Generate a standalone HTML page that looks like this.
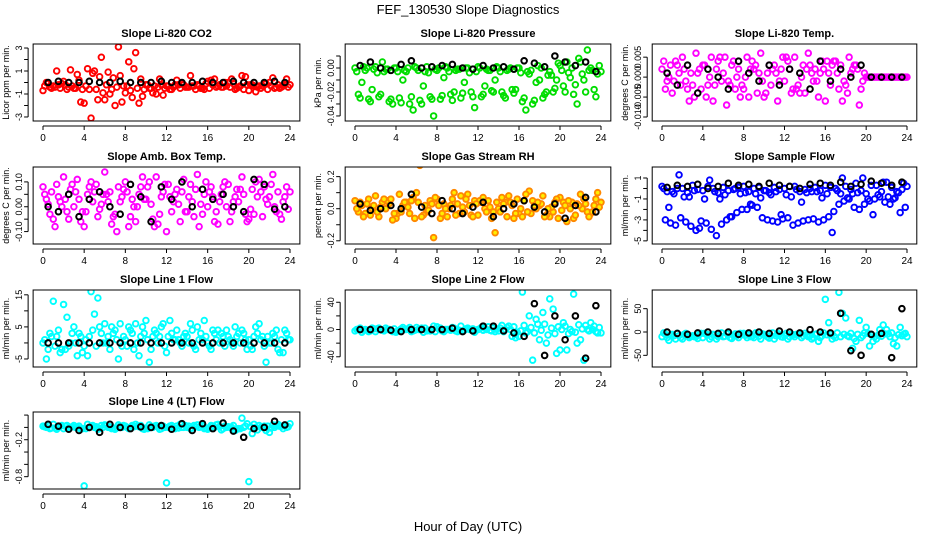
<!DOCTYPE html>
<html><head><meta charset="utf-8"><style>
html,body{margin:0;padding:0;background:#fff;}
svg{display:block;font-family:"Liberation Sans",Arial,sans-serif;}
</style></head><body>
<svg id="chart" width="936" height="540" viewBox="0 0 936 540" xmlns="http://www.w3.org/2000/svg">
<text x="468" y="14" text-anchor="middle" font-size="13">FEF_130530  Slope Diagnostics</text>
<text x="468" y="531" text-anchor="middle" font-size="13">Hour of Day (UTC)</text>
</svg>
<script>
const xTicks=[0,4,8,12,16,20,24];
// Panel 1 CO2
const co2A=[-0.7,-0.3,0.1,-0.5,-1.8,1.0,-1.5,-2.0,-0.9,2.6,-0.2,-1.0,-0.3,0.2,-0.4,-0.2,0.1,-0.3,0.0,-0.4,-0.7,-0.3,0.0,-0.5,-0.2];
const co2B=[0.0,1.0,-0.6,0.7,1.2,-1.5,0.9,3.1,1.8,-1.8,-0.5,0.3,-0.6,-0.5,0.6,-0.5,0.2,-0.4,0.3,0.6,-0.2,-0.3,0.4,-0.3];
const co2C=[-0.4,-0.5,1.1,-1.7,-3.1,2.2,-0.6,-1.7,-1.3,-1.2,-0.9,-1.1,-0.4,-0.2,-0.3,-0.6,0.3,0.0,-0.6,0.5,-0.8,-0.1,-0.4,0.3];
const co2D=[-0.3,-0.4,-0.2,-0.5,-0.3,-0.6,-0.2,-0.4,-0.3,-0.5,-0.2,-0.4,-0.3,-0.2,-0.4,-0.3,-0.5,-0.2,-0.4,-0.3,-0.2,-0.5,-0.3,-0.4];
const co2E=[-0.1,-0.2,-0.4,0.2,-0.6,0.5,-1.0,0.6,-0.7,0.3,-0.5,-0.2,-0.6,-0.1,-0.3,-0.5,-0.2,-0.4,-0.1,-0.6,-0.3,-0.1,-0.5,-0.2];
const co2F=[-0.5,-0.1,-0.3,-0.6,0.8,-0.9,0.4,-0.3,1.2,-0.6,-0.3,-0.5,-0.2,-0.4,-0.6,-0.1,-0.4,-0.3,-0.5,-0.2,-0.4,-0.6,-0.2,-0.4];
const co2K=[0.0,0.1,0.0,0.0,0.1,0.0,0.0,0.1,0.0,0.0,0.0,0.1,0.0,0.0,0.0,0.1,0.0,0.0,0.1,0.0,0.0,0.0,0.1,0.0];
// Panel 2 pressure
const prA=[0.0,-0.002,0.001,-0.001,0.0,-0.003,0.0,0.001,-0.002,0.0,-0.001,0.0,0.001,-0.002,0.0,-0.001,0.0,-0.005,-0.01,-0.003,0.002,-0.008,0.005,0.0,-0.003];
const prB=[-0.022,-0.026,-0.024,-0.028,-0.025,-0.03,-0.027,-0.024,-0.026,-0.022,-0.025,-0.02,-0.024,-0.019,-0.02,-0.018,-0.028,-0.03,-0.025,-0.02,-0.015,-0.022,-0.01,-0.018];
const prC=[-0.012,-0.018,0.005,-0.03,-0.01,-0.035,-0.015,-0.04,-0.008,-0.02,-0.012,-0.033,-0.015,-0.01,-0.025,-0.018,-0.035,-0.012,-0.02,-0.01,0.005,-0.03,0.015,-0.005];
const prD=[-0.003,0.0,-0.004,-0.001,-0.003,0.0,-0.002,-0.004,0.0,-0.003,-0.001,-0.004,0.0,-0.002,-0.003,0.0,-0.004,-0.002,0.0,-0.006,-0.002,0.0,-0.005,-0.002];
const prE=[-0.025,-0.028,-0.022,-0.026,-0.029,-0.024,-0.03,-0.026,-0.023,-0.027,-0.021,-0.024,-0.022,-0.02,-0.023,-0.021,-0.025,-0.027,-0.022,-0.017,-0.02,-0.014,-0.02,-0.024];
const prF=[0.001,-0.001,-0.003,0.0,-0.002,0.001,-0.003,-0.001,0.001,-0.002,0.0,-0.003,-0.001,0.001,-0.002,0.0,-0.003,0.002,-0.006,0.004,-0.004,0.008,-0.002,0.002];
const prK=[0.002,0.005,0.0,-0.002,0.003,0.006,0.0,0.001,0.002,0.003,0.0,-0.001,0.002,0.0,0.001,-0.001,0.006,0.004,0.001,0.01,0.005,0.002,0.005,-0.003];
// Panel 3 temp
const tA=[0.002,-0.004,0.005,-0.002,0.003,-0.006,0.001,0.004,-0.003,0.002,-0.005,0.003,-0.001,0.005,-0.004,0.002,-0.006,0.004,-0.002,0.003,0,0,0,0,0];
const tB=[-0.003,0.004,-0.001,0.006,-0.005,0.002,-0.007,0.0,0.005,-0.004,0.001,-0.006,0.004,-0.002,0.006,-0.005,0.001,-0.003,0.005,-0.007,0,0,0,0];
const tC=[0.0,0.001,-0.006,0.002,0.0,0.005,-0.002,-0.005,0.002,0.006,-0.002,0.002,-0.004,0.0,0.001,0.004,0.003,-0.006,0.002,-0.001,0,0,0,0];
const tD=[0.004,-0.001,0.002,-0.005,0.003,-0.002,0.005,-0.003,0.0,0.003,-0.004,0.001,0.005,-0.003,0.002,-0.001,0.004,0.001,-0.004,0.002,0,0,0,0];
const tE=[-0.001,0.003,-0.003,0.001,-0.002,0.004,-0.001,0.002,-0.005,0.001,0.003,-0.001,0.002,-0.004,0.003,0.001,-0.002,0.003,0.001,-0.003,0,0,0,0];
const tF=[0.003,-0.002,0.001,-0.003,0.005,-0.001,0.003,-0.002,0.004,-0.001,0.002,0.005,-0.003,0.003,-0.001,0.002,0.004,-0.001,0.003,0.001,0,0,0,0];
const tK=[0.001,-0.002,0.003,-0.004,0.002,0.0,-0.003,0.004,0.001,-0.001,0.003,-0.002,0.002,0.001,-0.003,0.004,-0.001,0.002,0.0,0.003,0,0,0,0];
// Panel 4 amb box temp
const abA=[0.08,-0.05,0.12,0.0,-0.08,0.06,0.14,-0.03,0.1,-0.06,0.03,0.12,-0.1,0.07,-0.02,0.13,0.0,-0.07,0.09,0.02,-0.05,0.11,0.04,-0.03,0.06];
const abB=[0.03,0.09,-0.02,0.11,0.05,-0.04,0.02,0.08,-0.08,0.05,0.1,-0.03,0.04,-0.06,0.09,0.01,0.08,0.05,-0.02,0.12,0.07,-0.04,0.13,0.02];
const abC=[-0.03,0.02,0.07,-0.06,0.1,0.01,-0.07,0.04,0.03,0.12,-0.05,0.06,0.02,0.11,-0.04,0.05,-0.06,0.1,0.04,-0.03,0.1,0.03,-0.02,0.08];
const abD=[0.05,-0.08,0.03,0.06,-0.02,0.09,0.05,-0.1,0.06,0.0,0.08,-0.07,0.09,0.01,0.04,-0.08,0.06,0.02,-0.06,0.07,-0.01,0.06,0.09,-0.05];
const abE=[0.01,0.04,-0.05,0.03,0.08,-0.01,0.06,0.02,-0.04,0.08,0.01,0.04,-0.02,0.06,0.02,-0.03,0.04,0.08,0.02,0.05,-0.03,0.08,0.0,0.04];
const abF=[0.06,0.0,0.09,-0.02,0.02,0.05,-0.04,0.07,0.0,0.03,-0.08,0.09,0.05,-0.02,0.07,0.1,-0.02,0.0,0.07,-0.06,0.04,0.01,0.06,-0.01];
const abK=[0.0,-0.02,0.05,-0.04,0.03,0.06,0.0,-0.03,0.09,0.04,-0.06,0.08,0.03,0.1,0.0,0.07,0.03,0.05,0.0,-0.02,0.11,0.09,-0.01,0.0];
// Panel 5 RH
const rhA=[0.05,-0.03,0.08,0.0,-0.06,0.04,0.1,-0.02,0.06,-0.05,0.03,0.09,-0.04,0.05,0.0,0.08,-0.03,0.11,0.02,-0.05,0.07,0.0,0.09,-0.03,0.04];
const rhB=[-0.02,0.06,-0.05,0.03,0.09,-0.03,0.27,0.05,-0.06,0.02,0.08,-0.04,0.04,-0.06,0.07,0.02,-0.05,0.05,0.08,-0.02,0.04,-0.06,0.06,0.02];
const rhC=[0.02,0.0,0.04,-0.07,0.02,0.07,-0.04,-0.18,0.03,0.1,-0.02,0.05,0.0,-0.15,0.04,-0.03,0.09,0.0,-0.04,0.06,-0.08,0.03,-0.02,0.1];
const rhD=[0.0,0.03,-0.02,0.05,-0.03,0.01,0.04,-0.01,0.02,0.0,-0.03,0.02,0.05,0.01,-0.02,0.04,0.0,-0.03,0.03,0.01,-0.01,0.04,0.0,-0.02];
const rhE=[0.04,-0.04,0.01,0.06,-0.02,0.05,-0.05,0.03,-0.03,0.06,0.01,-0.05,0.07,-0.02,0.03,-0.06,0.05,0.02,-0.05,0.04,0.02,-0.04,0.03,0.06];
const rhF=[-0.05,0.02,0.06,-0.03,0.04,-0.06,0.02,0.07,0.0,-0.04,0.06,0.03,-0.02,0.04,-0.05,0.06,-0.02,0.04,0.0,-0.06,0.05,0.02,-0.05,0.01];
const rhK=[0.03,-0.01,0.0,0.02,0.0,0.09,0.01,-0.03,0.05,0.0,-0.03,0.01,0.04,-0.05,0.0,0.03,0.05,0.01,-0.02,0.03,-0.06,0.02,0.07,-0.02];
// Panel 6 sample flow
const sfA=[0.2,-0.3,0.0,0.3,-0.2,0.0,0.1,-0.1,0.2,0.0,-0.2,0.1,0.0,0.2,-0.1,0.1,0.3,0.0,0.2,0.5,-0.5,0.3,0.6,-0.3,0.2];
const sfB=[-3.0,-3.5,-3.2,-4.0,-3.3,-4.5,-3.0,-2.3,-2.0,-1.8,-3.0,-3.2,-2.8,-3.3,-3.0,-3.2,-2.7,-1.5,-1.0,-2.0,-1.2,-0.8,-1.5,-2.3];
const sfC=[-1.8,1.3,-0.8,-3.8,0.8,-1.0,-2.7,-0.5,-1.5,-0.9,-0.6,-2.5,-0.8,-1.3,-0.3,-0.9,-4.2,1.0,-0.5,1.0,-2.5,0.6,-1.0,0.5];
const sfD=[0.0,-0.5,-0.8,-0.2,-1.0,-0.3,-0.6,0.0,-0.4,-0.5,-0.2,-0.3,-0.6,-0.1,-0.4,-0.3,-0.5,-0.2,-0.9,-0.4,-1.0,-0.6,-0.8,-0.4];
const sfE=[-0.3,0.0,-0.4,-0.1,0.2,-0.4,-0.2,0.1,-0.3,0.1,-0.4,-0.1,0.2,-0.3,0.0,-0.2,0.1,-0.5,-0.1,-0.2,0.3,-0.3,0.1,-0.1];
const sfF=[-3.3,-2.8,-3.6,-3.1,-3.9,-3.4,-2.7,-2.0,-1.6,-2.8,-3.1,-2.9,-3.5,-3.1,-2.9,-3.0,-2.2,-1.2,-1.8,-1.5,-1.0,-1.3,-0.9,-1.8];
const sfK=[0.1,0.3,0.2,0.4,0.0,0.2,0.5,0.3,0.4,0.2,0.5,0.3,0.2,0.0,0.4,0.5,0.3,0.6,0.2,0.4,0.7,0.5,0.3,0.6];
// Panel 7 line1
const l1A=[0,13,12,5,-1,9,6,4,1,6,7,3,-3,4,2,5,0,4,2,3,1,6,0,-3,1];
const l1B=[-5,2,8,-4,-4,14,2,-5,5,-4,-6,2,7,0,6,3,-2,3,0,4,-2,2,3,-3];
const l1C=[3,-3,0,2,16,3,5,-1,3,5,2,6,1,2,-1,7,3,-1,5,1,5,-6,4,3];
const l1D=[1,-1,-2,0,1,-1,0,1,-1,0,1,0,2,1,0,1,-1,0,1,0,-1,1,0,1];
const l1E=[-2,4,-1,3,2,5,-2,6,4,2,-2,5,3,-1,4,1,4,2,-1,3,2,-1,2,4];
const l1F=[2,-2,3,-3,4,0,3,2,-2,3,4,-1,1,3,-2,2,1,4,2,-2,3,2,-2,1];
const l1K=[0,0,0,0,0,0,0,0,0,0,0,0,0,0,0,0,0,0,0,0,0,0,0,0];
// Panel 8 line2
const l2A=[-2,0,-3,2,-4,0,3,-2,4,0,-3,2,0,4,-2,5,-10,20,-15,45,-30,0,-15,10,-5];
const l2B=[0,-3,2,0,-2,3,0,-2,2,-1,5,0,3,-2,6,-10,55,-45,25,30,10,52,-45,5];
const l2C=[-4,2,-1,-3,3,-2,-4,5,-3,2,-1,-4,2,-3,0,-12,-5,15,-20,-35,-30,-20,0,-5];
const l2D=[0,-1,1,0,-2,1,0,-1,1,0,-1,0,1,-1,2,0,-2,3,-1,2,0,-3,1,0];
const l2E=[2,-2,0,-1,1,-3,2,0,-2,3,-2,1,-1,2,-3,4,6,-5,8,-6,5,-4,6,-3];
const l2F=[-1,1,-2,1,0,-1,2,-3,0,-2,1,-1,0,1,3,-4,-3,8,-8,4,-6,7,-2,3];
const l2K=[0,0,0,-1,-3,0,0,0,0,2,-3,-2,5,5,-2,-5,-10,38,-38,20,-15,20,-42,35];
// Panel 9 line3
const l3A=[-10,-5,-15,-8,-12,-5,-10,-8,-3,-12,-5,-15,-8,-10,-3,-5,70,-12,30,-20,10,-15,5,-30,-10];
const l3B=[-5,-15,-3,-10,-5,-15,-3,-8,-12,-5,-10,-3,-15,-5,-10,-20,20,85,-10,25,-30,5,-10,10];
const l3C=[-18,-8,-12,-5,-15,-8,-12,-3,-10,-15,-8,-10,-5,-12,-15,-8,-15,40,-35,-8,-20,15,-25,-5];
const l3D=[-2,-8,-5,-10,-3,-6,-9,-4,-7,-2,-6,-8,-3,-5,-7,-4,-6,-2,-8,-5,-3,-7,-4,-6];
const l3E=[-12,-3,-8,-14,-6,-10,-4,-12,-6,-9,-13,-5,-10,-4,-8,-12,-5,-10,-3,-12,-6,-9,-2,-8];
const l3F=[-6,-12,-9,-3,-10,-2,-14,-6,-9,-4,-2,-11,-6,-8,-12,-2,-9,-5,-14,-2,-10,-4,-12,-3];
const l3K=[0,-3,-5,-2,0,-3,0,-5,-2,0,-3,2,0,-2,5,0,-2,40,-40,-50,-5,-3,-55,50];
// Panel 10 line4
const l4A=[0.02,0.05,-0.02,0.03,-0.95,0.0,0.04,-0.03,0.02,0.05,-0.01,0.03,-0.9,0.02,0.0,0.04,-0.03,0.05,0.01,-0.02,-0.88,0.03,-0.08,0.02,0.06];
const l4B=[0.0,-0.03,0.03,0.0,0.05,-0.03,0.0,0.04,-0.02,0.01,0.04,-0.03,0.02,0.05,-0.02,0.01,0.03,-0.04,0.0,0.15,-0.1,0.0,0.04,-0.02];
const l4C=[-0.02,0.02,0.0,-0.03,0.01,0.03,-0.02,0.0,0.03,-0.02,0.0,0.02,-0.01,0.0,0.03,-0.02,0.0,0.02,-0.05,0.02,0.0,-0.05,0.03,0.0];
const l4D=[0.01,-0.01,0.02,0.0,-0.02,0.01,0.03,-0.01,0.0,0.02,-0.02,0.01,0.0,-0.01,0.02,0.0,-0.01,0.01,0.0,-0.02,0.01,0.0,-0.01,0.02];
const l4E=[0.03,0.0,-0.01,0.02,0.0,-0.02,0.01,0.02,-0.01,0.03,0.01,-0.02,0.03,0.0,-0.01,0.03,0.02,-0.02,0.03,0.0,0.05,0.02,0.0,0.03];
const l4F=[-0.01,0.03,0.01,-0.02,0.03,0.0,-0.01,0.03,0.01,-0.03,0.02,0.0,-0.02,0.03,0.01,-0.01,0.04,0.0,-0.03,0.06,-0.04,0.02,0.05,0.01];
const l4K=[0.05,0.02,-0.03,-0.05,0.0,-0.08,0.05,0.0,-0.02,0.01,0.0,0.03,-0.03,0.06,-0.05,0.06,-0.02,0.07,-0.06,-0.16,-0.02,0.0,0.1,0.04];

const panels=[
 {n:'co2',t:'Slope Li-820 CO2',yl:'Licor ppm per min.',c:0,r:0,y0:-3.35,y1:3.35,ticks:[-3,-2,-1,0,1,2,3],labs:['-3','-1','1','3'],labv:[-3,-1,1,3],col:'#ff0000',fill:'none',s:[co2A,co2B,co2C,co2D,co2E,co2F],k:co2K},
 {n:'pressure',t:'Slope Li-820 Pressure',yl:'kPa per min.',c:1,r:0,y0:-0.0442,y1:0.02,ticks:[-0.04,-0.03,-0.02,-0.01,0,0.01],labs:['-0.04','-0.02','0.00'],labv:[-0.04,-0.02,0],col:'#00dd00',fill:'none',s:[prA,prB,prC,prD,prE,prF],k:prK},
 {n:'temp',t:'Slope Li-820 Temp.',yl:'degrees C per min.',c:2,r:0,y0:-0.011,y1:0.0083,ticks:[-0.01,-0.005,0,0.005],labs:['-0.010','-0.005','0.000','0.005'],labv:[-0.01,-0.005,0,0.005],col:'#ff00ff',fill:'none',s:[tA,tB,tC,tD,tE,tF],k:tK},
 {n:'amb-box',t:'Slope Amb. Box Temp.',yl:'degrees C per min.',c:0,r:1,y0:-0.15,y1:0.16,ticks:[-0.1,-0.05,0,0.05,0.1],labs:['-0.10','0.00','0.10'],labv:[-0.1,0,0.1],col:'#ff00ff',fill:'none',s:[abA,abB,abC,abD,abE,abF],k:abK},
 {n:'rh',t:'Slope Gas Stream RH',yl:'percent per min.',c:1,r:1,y0:-0.22,y1:0.26,ticks:[-0.2,-0.1,0,0.1,0.2],labs:['-0.2','0.0','0.2'],labv:[-0.2,0,0.2],col:'#ff8800',fill:'#ffee00',s:[rhA,rhB,rhC,rhD,rhE,rhF],k:rhK},
 {n:'sample-flow',t:'Slope Sample Flow',yl:'ml/min per min.',c:2,r:1,y0:-5.3,y1:2.05,ticks:[1,0,-1,-2,-3,-4,-5],labs:['1','-1','-3','-5'],labv:[1,-1,-3,-5],col:'#0000ff',fill:'none',s:[sfA,sfB,sfC,sfD,sfE,sfF],k:sfK},
 {n:'line1',t:'Slope Line 1 Flow',yl:'ml/min per min.',c:0,r:2,y0:-7.5,y1:16.5,ticks:[-5,0,5,10,15],labs:['-5','5','15'],labv:[-5,5,15],col:'#00ffff',fill:'none',s:[l1A,l1B,l1C,l1D,l1E,l1F],k:l1K},
 {n:'line2',t:'Slope Line 2 Flow',yl:'ml/min per min.',c:1,r:2,y0:-55,y1:58,ticks:[-40,-20,0,20,40],labs:['-40','0','40'],labv:[-40,0,40],col:'#00ffff',fill:'none',s:[l2A,l2B,l2C,l2D,l2E,l2F],k:l2K},
 {n:'line3',t:'Slope Line 3 Flow',yl:'ml/min per min.',c:2,r:2,y0:-75,y1:90,ticks:[-50,0,50],labs:['-50','0','50'],labv:[-50,0,50],col:'#00ffff',fill:'none',s:[l3A,l3B,l3C,l3D,l3E,l3F],k:l3K},
 {n:'line4',t:'Slope Line 4 (LT) Flow',yl:'ml/min per min.',c:0,r:3,y0:-1.0,y1:0.25,ticks:[0.2,0,-0.2,-0.4,-0.6,-0.8],labs:['-0.2','-0.8'],labv:[-0.2,-0.8],col:'#00ffff',fill:'none',s:[l4A,l4B,l4C,l4D,l4E,l4F],k:l4K}
];
const NS='http://www.w3.org/2000/svg';
const svg=document.getElementById('chart');
const colX=[[43,290],[355,601],[662,907]];
const rowTop=[44,167,290,412];
const BH=77;
function mk(tag,attrs,parent){const e=document.createElementNS(NS,tag);for(const k in attrs)e.setAttribute(k,attrs[k]);parent.appendChild(e);return e;}
const offs=[0,0.33,0.67,0.17,0.5,0.83];
panels.forEach(p=>{
  const [xa,xb]=colX[p.c];
  const xs=v=>xa+(v/24)*(xb-xa);
  const bl=xs(-0.96),br=xs(24.96);
  const bt=rowTop[p.r],bb=bt+BH;
  const ys=v=>bb-(v-p.y0)/(p.y1-p.y0)*BH;
  const g=mk('g',{},svg);
  
  
  const t=mk('text',{x:(bl+br)/2,y:bt-7,'text-anchor':'middle','font-size':'11','font-weight':'bold'},g);
  
  
  t.textContent=p.t;
  const yl=mk('text',{x:0,y:0,'text-anchor':'middle','font-size':'9',transform:`translate(${bl-24},${(bt+bb)/2}) rotate(-90)`},g);
  
  
  yl.textContent=p.yl;
  const clip='clip-'+p.n;
  const cp=mk('clipPath',{id:clip},g);mk('rect',{x:bl,y:bt,width:br-bl,height:BH},cp);
  const pg=mk('g',{'clip-path':`url(#${clip})`},g);
  p.s.forEach((arr,si)=>{arr.forEach((v,i)=>{
    const c=mk('circle',{cx:xs(i+offs[si]),cy:ys(v),r:2.8,fill:p.fill,stroke:p.col,'stroke-width':1.9},pg);
    
    
  });});
  p.k.forEach((v,i)=>{
    const c=mk('circle',{cx:xs(i+0.5),cy:ys(v),r:2.8,fill:'none',stroke:'#000','stroke-width':2},pg);
    
    
  });
  const box=mk('rect',{x:bl,y:bt,width:br-bl,height:BH,fill:'none',stroke:'#000','stroke-width':1},g);
  
  
  mk('line',{x1:xs(0),x2:xs(24),y1:bb+5,y2:bb+5,stroke:'#000'},g);
  xTicks.forEach(v=>{
    mk('line',{x1:xs(v),x2:xs(v),y1:bb+5,y2:bb+9,stroke:'#000'},g);
    const tl=mk('text',{x:xs(v),y:bb+20,'text-anchor':'middle','font-size':'10'},g);
    
    
    tl.textContent=v;
  });
  const tmin=Math.min(...p.ticks),tmax=Math.max(...p.ticks);
  mk('line',{x1:bl-5,x2:bl-5,y1:ys(tmin),y2:ys(tmax),stroke:'#000'},g);
  p.ticks.forEach(v=>mk('line',{x1:bl-9,x2:bl-5,y1:ys(v),y2:ys(v),stroke:'#000'},g));
  p.labs.forEach((l,i)=>{
    const tl=mk('text',{x:0,y:0,'text-anchor':'middle','font-size':'9',transform:`translate(${bl-11},${ys(p.labv[i])}) rotate(-90)`},g);
    
    
    tl.textContent=l;
  });
});
</script>
</body></html>
